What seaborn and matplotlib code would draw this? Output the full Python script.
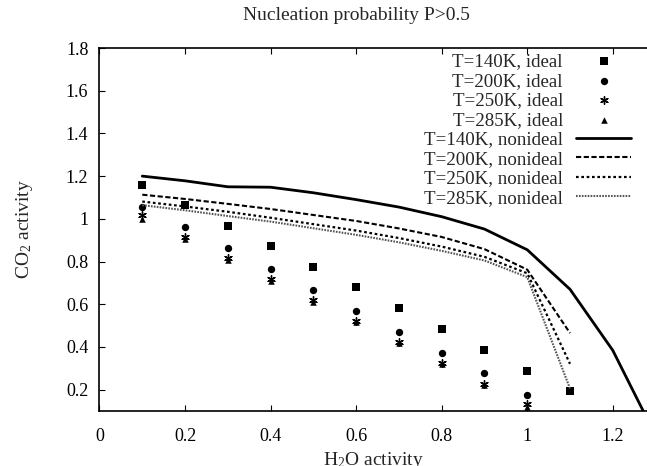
import matplotlib
matplotlib.use("Agg")
import matplotlib.pyplot as plt
import seaborn as sns
import numpy as np
from matplotlib.ticker import FuncFormatter

sns.set_theme(style="white")
plt.rcParams['font.family'] = ['Liberation Serif', 'DejaVu Serif']
plt.rcParams['mathtext.fontset'] = 'custom'
plt.rcParams['mathtext.rm'] = 'Liberation Serif'
plt.rcParams['mathtext.it'] = 'Liberation Serif:italic'

# ---- data ----
x_ideal = [0.1, 0.2, 0.3, 0.4, 0.5, 0.6, 0.7, 0.8, 0.9, 1.0, 1.1]
ideal_140 = [1.157, 1.065, 0.967, 0.871, 0.776, 0.679, 0.583, 0.484, 0.388, 0.289, 0.192]
x_ideal_short = [0.1, 0.2, 0.3, 0.4, 0.5, 0.6, 0.7, 0.8, 0.9, 1.0]
ideal_200 = [1.055, 0.961, 0.864, 0.766, 0.669, 0.570, 0.472, 0.373, 0.277, 0.175]
ideal_250 = [1.016, 0.914, 0.815, 0.718, 0.619, 0.520, 0.423, 0.324, 0.228, 0.132]
ideal_285 = [1.000, 0.905, 0.805, 0.710, 0.610, 0.515, 0.418, 0.320, 0.222, 0.120]

x_non_140 = [0.1, 0.2, 0.3, 0.4, 0.5, 0.6, 0.7, 0.8, 0.9, 1.0, 1.1, 1.2, 1.3]
non_140 = [1.200, 1.178, 1.150, 1.148, 1.122, 1.090, 1.055, 1.010, 0.952, 0.855, 0.670, 0.384, -0.015]
x_non = [0.1, 0.2, 0.3, 0.4, 0.5, 0.6, 0.7, 0.8, 0.9, 1.0, 1.1]
non_200 = [1.113, 1.093, 1.070, 1.046, 1.018, 0.990, 0.955, 0.915, 0.858, 0.762, 0.465]
non_250 = [1.081, 1.058, 1.033, 1.005, 0.975, 0.945, 0.910, 0.870, 0.822, 0.745, 0.321]
non_285 = [1.064, 1.040, 1.013, 0.987, 0.956, 0.925, 0.890, 0.850, 0.805, 0.727, 0.205]

x_ticks = [0, 0.2, 0.4, 0.6, 0.8, 1.0, 1.2]
y_ticks = [0.2, 0.4, 0.6, 0.8, 1.0, 1.2, 1.4, 1.6, 1.8]

fig = plt.figure(figsize=(6.47, 4.66), dpi=100)
ax_left, ax_w = 99.5 / 647, 1 - 99.5 / 647
ax = fig.add_axes([ax_left, 55 / 466, ax_w, (411 - 48) / 466])

k = 'black'
sns.scatterplot(x=x_ideal, y=ideal_140, ax=ax, marker='s', s=26, color=k,
                edgecolor=k, linewidth=0, label='T=140K, ideal')
sns.scatterplot(x=x_ideal_short, y=ideal_200, ax=ax, marker='o', s=28, color=k,
                edgecolor=k, linewidth=0, label='T=200K, ideal')
sns.scatterplot(x=x_ideal_short, y=ideal_250, ax=ax, marker=(6, 2, 0), s=30,
                color=k, edgecolor=k, linewidth=1.0, label='T=250K, ideal')
sns.scatterplot(x=x_ideal_short, y=ideal_285, ax=ax, marker='^', s=22, color=k,
                edgecolor=k, linewidth=0, label='T=285K, ideal')

sns.lineplot(x=x_non_140, y=non_140, ax=ax, color=k, linewidth=2.0,
             linestyle='-', label='T=140K, nonideal')
sns.lineplot(x=x_non, y=non_200, ax=ax, color=k, linewidth=1.5,
             linestyle=(0, (2.5, 1.2)), label='T=200K, nonideal')
sns.lineplot(x=x_non, y=non_250, ax=ax, color=k, linewidth=1.6,
             linestyle=(0, (1.2, 1.2)), label='T=250K, nonideal')
sns.lineplot(x=x_non, y=non_285, ax=ax, color='#555555', linewidth=1.5,
             linestyle=(0, (0.8, 0.6)), label='T=285K, nonideal')

ax.set_xlim(0, 1.28)
ax.set_ylim(0.1, 1.8)
ax.set_xticks(x_ticks)
ax.set_yticks(y_ticks)
fmt = FuncFormatter(lambda v, p: ('%g' % round(v, 2)))
ax.xaxis.set_major_formatter(fmt)
ax.yaxis.set_major_formatter(fmt)
ax.tick_params(axis='both', direction='in', length=4, width=0.8, colors='black',
               labelsize=13, top=True, bottom=True, left=True, right=False)
ax.tick_params(axis='x', pad=12)
ax.tick_params(axis='y', pad=8)
for s in ['left', 'bottom', 'top']:
    ax.spines[s].set_color('black')
    ax.spines[s].set_linewidth(1.2)
ax.spines['right'].set_visible(False)

ax.set_xlabel(r'H$_2$O activity', fontsize=14, labelpad=4)
ax.set_ylabel(r'CO$_2$ activity', fontsize=14, labelpad=22)
fig.text(356 / 647, 1 - 15 / 466, 'Nucleation probability P>0.5', ha='center',
         va='center', fontsize=14)

ax_w_px = 647 - 99.5
leg = ax.legend(loc='upper right',
                bbox_to_anchor=((631 - 99.5) / ax_w_px, 1 - 5 / 363),
                frameon=False, markerfirst=False, fontsize=13.6,
                labelspacing=0.12, handlelength=2.9, handletextpad=0.7,
                borderaxespad=0, borderpad=0)

fig.savefig('out.png', dpi=100)
